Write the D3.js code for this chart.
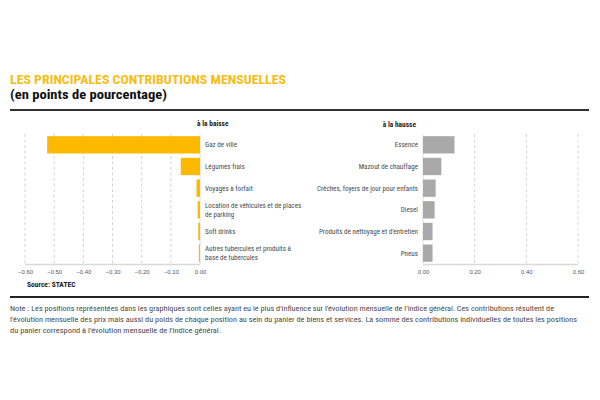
<!DOCTYPE html>
<html lang="fr">
<head>
<meta charset="utf-8">
<style>
  body { margin: 0; background: #fff; }
  svg { font-family: "Roboto Condensed", "DejaVu Sans Condensed", "Liberation Sans Narrow", Roboto, sans-serif; }
</style>
</head>
<body>
<svg id="chart" width="600" height="400"></svg>
<script src="https://cdn.jsdelivr.net/npm/d3@7"></script>
<script>
// données
var baisseCats = ["Gaz de ville", "Légumes frais", "Voyages à forfait",
  "Location de véhicules et de places de parking", "Soft drinks",
  "Autres tubercules et produits à base de tubercules"];
var baisseVals = [-0.524, -0.066, -0.012, -0.008, -0.006, -0.004];

var hausseCats = ["Essence", "Mazout de chauffage", "Crèches, foyers de jour pour enfants",
  "Diesel", "Produits de nettoyage et d'entretien", "Pneus"];
var hausseVals = [0.122, 0.071, 0.049, 0.045, 0.037, 0.037];

var baisseTicks = [-0.6, -0.5, -0.4, -0.3, -0.2, -0.1, 0];
var hausseTicks = [0, 0.2, 0.4, 0.6];

var title = "LES PRINCIPALES CONTRIBUTIONS MENSUELLES";
var subtitle = "(en points de pourcentage)";
var source = "Source: STATEC";
var note = ["Note : Les positions représentées dans les graphiques sont celles ayant eu le plus d'influence sur l'évolution mensuelle de l'indice général. Ces contributions résultent de",
  "l'évolution mensuelle des prix mais aussi du poids de chaque position au sein du panier de biens et services. La somme des contributions individuelles de toutes les positions",
  "du panier correspond à l'évolution mensuelle de l'indice général."];
var noteWidths = [544, 567, 211];

var svg = d3.select("#chart");
var fmt = d3.format(".2f");

// titre
svg.append("text").attr("x", 10).attr("y", 84)
  .attr("font-size", 13).attr("font-weight", "bold").attr("fill", "#f6bd16")
  .attr("textLength", 276).attr("lengthAdjust", "spacingAndGlyphs")
  .text(title);
svg.append("text").attr("x", 10).attr("y", 99)
  .attr("font-size", 13).attr("font-weight", "bold").attr("fill", "#111")
  .attr("textLength", 157).attr("lengthAdjust", "spacingAndGlyphs")
  .text(subtitle);
svg.append("line").attr("x1", 10).attr("x2", 589).attr("y1", 110).attr("y2", 110)
  .attr("stroke", "#333").attr("stroke-width", 2);

var yTop = 134, yBot = 264;

function wrap(sel, width) {
  sel.each(function () {
    var t = d3.select(this), words = t.text().split(" "), x = t.attr("x");
    t.text(null);
    var line = [], tspan = t.append("tspan").attr("x", x), lines = [tspan];
    words.forEach(function (w) {
      line.push(w);
      tspan.text(line.join(" "));
      if (tspan.node().getComputedTextLength() > width && line.length > 1) {
        line.pop();
        tspan.text(line.join(" "));
        line = [w];
        tspan = t.append("tspan").attr("x", x).text(w);
        lines.push(tspan);
      }
    });
    var n = lines.length;
    lines.forEach(function (ts, i) {
      ts.attr("dy", i == 0 ? ((-(n - 1) * 4.6) + 2.4) + "px" : "9.2px");
    });
  });
}

function panel(cats, vals, ticks, xDomain, xRange, color, side) {
  var x = d3.scaleLinear().domain(xDomain).range(xRange);
  var y = d3.scaleBand().domain(cats).range([yTop, yBot]).paddingInner(0.2).paddingOuter(0.1);
  var g = svg.append("g");

  // grille
  g.selectAll(".grid").data(ticks).enter().append("line")
    .attr("x1", function (d) { return x(d); }).attr("x2", function (d) { return x(d); })
    .attr("y1", yTop).attr("y2", yBot)
    .attr("stroke", function (d) { return d == 0 ? "#d6d6d6" : "#c8c8c8"; })
    .attr("stroke-width", 0.8)
    .attr("stroke-dasharray", function (d) { return d == 0 ? null : "3,2.5"; });

  // barres
  g.selectAll(".bar").data(vals).enter().append("rect")
    .attr("x", function (d) { return Math.min(x(d), x(0)); })
    .attr("width", function (d) { return Math.abs(x(d) - x(0)); })
    .attr("y", function (d, i) { return y(cats[i]); })
    .attr("height", y.bandwidth())
    .attr("fill", color);

  // ligne de base
  g.append("line").attr("x1", xRange[0]).attr("x2", xRange[1])
    .attr("y1", yBot + 0.5).attr("y2", yBot + 0.5)
    .attr("stroke", "#d9d9d9").attr("stroke-width", 1.6);

  // graduations
  var axis = d3.axisBottom(x).tickValues(ticks).tickFormat(fmt).tickSize(0).tickPadding(5);
  var ax = g.append("g").attr("transform", "translate(0," + (yBot + 1) + ")").call(axis);
  ax.select(".domain").remove();
  ax.selectAll("text").attr("font-size", 5.9).attr("fill", "#555").attr("font-family", null);

  // libellés
  var lab = g.selectAll(".lab").data(cats).enter().append("text")
    .attr("x", side == "left" ? x(0) + 5 : x(0) - 5)
    .attr("y", function (d) { return y(d) + y.bandwidth() / 2; })
    .attr("text-anchor", side == "left" ? "start" : "end")
    .attr("font-size", 7.1).attr("fill", "#4a4a4a")
    .text(function (d) { return d; });
  if (side == "left") lab.call(wrap, 100);
  else lab.attr("dy", "2.4px");
}

panel(baisseCats, baisseVals, baisseTicks, [-0.6, 0], [25, 200], "#fbb900", "left");
panel(hausseCats, hausseVals, hausseTicks, [0, 0.6], [423, 578], "#a9a9a9", "right");

svg.append("text").attr("x", 197).attr("y", 126).attr("font-size", 7.4)
  .attr("font-weight", "bold").attr("fill", "#222").text("à la baisse");
svg.append("text").attr("x", 416).attr("y", 127).attr("font-size", 7.4).attr("text-anchor", "end")
  .attr("font-weight", "bold").attr("fill", "#222").text("à la hausse");

svg.append("text").attr("x", 27).attr("y", 287).attr("font-size", 7.5)
  .attr("font-weight", "bold").attr("fill", "#222").text(source);

svg.append("line").attr("x1", 10).attr("x2", 589).attr("y1", 297).attr("y2", 297)
  .attr("stroke", "#222").attr("stroke-width", 2);

svg.selectAll(".note").data(note).enter().append("text")
  .attr("x", 10).attr("y", function (d, i) { return 310.5 + i * 11; })
  .attr("font-size", 6.8).attr("fill", "#4a4a4a")
  .attr("textLength", function (d, i) { return noteWidths[i]; })
  .attr("lengthAdjust", "spacingAndGlyphs")
  .text(function (d) { return d; });
</script>
</body>
</html>
